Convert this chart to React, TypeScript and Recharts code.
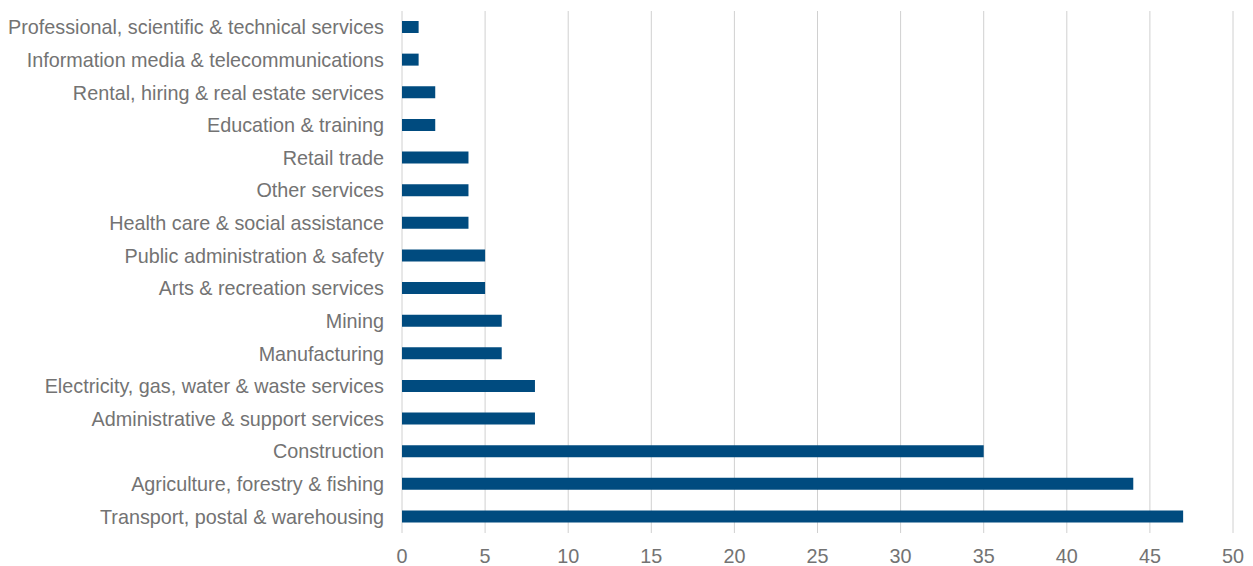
import { BarChart, Bar, XAxis, YAxis, CartesianGrid } from 'recharts'

const industries = [
  'Professional, scientific & technical services',
  'Information media & telecommunications',
  'Rental, hiring & real estate services',
  'Education & training',
  'Retail trade',
  'Other services',
  'Health care & social assistance',
  'Public administration & safety',
  'Arts & recreation services',
  'Mining',
  'Manufacturing',
  'Electricity, gas, water & waste services',
  'Administrative & support services',
  'Construction',
  'Agriculture, forestry & fishing',
  'Transport, postal & warehousing',
]

const counts = [1, 1, 2, 2, 4, 4, 4, 5, 5, 6, 6, 8, 8, 35, 44, 47]

const xTicks = [0, 5, 10, 15, 20, 25, 30, 35, 40, 45, 50]

const chartData = industries.map((name, i) => ({ name, value: counts[i] }))

const tickStyle = {
  fontSize: 19.8,
  fill: '#737373',
  fontFamily: '"Liberation Sans", Arial, sans-serif',
}

export default function App() {
  return (
    <div style={{ position: 'absolute', top: 0, left: 0 }}>
      <BarChart
        width={1253}
        height={566}
        data={chartData}
        layout="vertical"
        margin={{ top: 11, right: 20, bottom: 0, left: 0 }}
      >
        <CartesianGrid horizontal={false} stroke="#d0d0d0" />
        <XAxis
          type="number"
          domain={[0, 50]}
          ticks={xTicks}
          height={33}
          axisLine={false}
          tickLine={false}
          tickSize={6}
          tickMargin={10}
          tick={tickStyle}
        />
        <YAxis
          type="category"
          dataKey="name"
          width={402}
          axisLine={false}
          tickLine={false}
          tickSize={6}
          tickMargin={12}
          interval={0}
          tick={tickStyle}
        />
        <Bar dataKey="value" fill="#004b7f" barSize={12} isAnimationActive={false} />
      </BarChart>
    </div>
  )
}
